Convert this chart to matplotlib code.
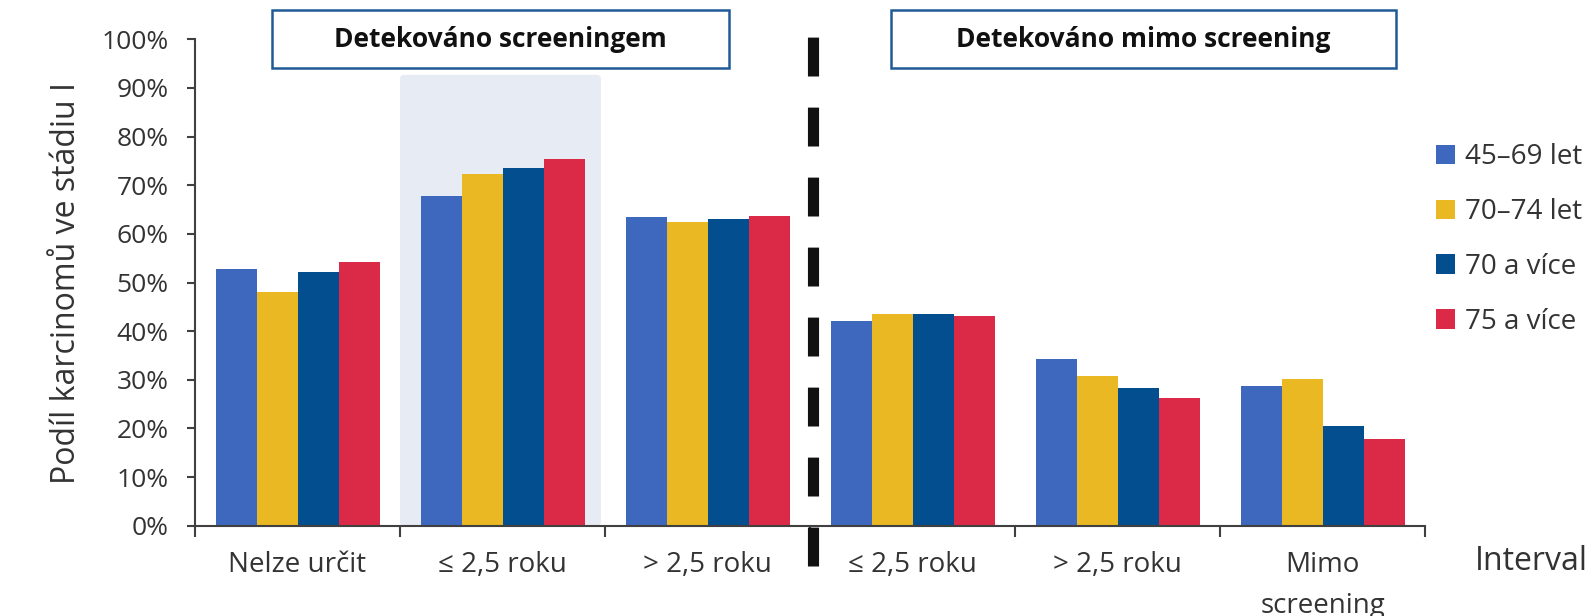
import numpy as np
import matplotlib
matplotlib.use('Agg')
import matplotlib.pyplot as plt
from matplotlib.patches import Rectangle, FancyBboxPatch
from matplotlib.ticker import FuncFormatter

plt.rcParams['font.family'] = ['Open Sans', 'DejaVu Sans']

categories = ['Nelze určit', '≤ 2,5 roku', '> 2,5 roku', '≤ 2,5 roku', '> 2,5 roku', 'Mimo\nscreening']
groups = ['45–69 let', '70–74 let', '70 a více', '75 a více']
s45_69 = [52.8, 67.7, 63.5, 42.1, 34.2, 28.7]
s70_74 = [48.0, 72.4, 62.5, 43.6, 30.7, 30.1]
s70plus = [52.1, 73.5, 63.0, 43.5, 28.4, 20.5]
s75plus = [54.2, 75.3, 63.7, 43.1, 26.3, 17.8]
colors = ['#3E68BE', '#EAB822', '#024E8F', '#DA2A47']
section_titles = ['Detekováno screeningem', 'Detekováno mimo screening']

series = [s45_69, s70_74, s70plus, s75plus]
x = np.arange(len(categories))
w = 0.2

fig = plt.figure(figsize=(15.9, 6.16), dpi=100)
ax = fig.add_axes([195/1590, 1-525.7/616, 1230/1590, (525.7-39.3)/616])

# light background for the screening <= 2,5 roku group
ax.add_patch(FancyBboxPatch((0.5, 0), 0.98, 92.7, boxstyle='round,pad=0,rounding_size=0.02',
                            facecolor='#E7EBF4', edgecolor='none', zorder=0,
                            mutation_aspect=40))

for i, s in enumerate(series):
    ax.bar(x + (i - 1.5)*w, s, width=w, color=colors[i], label=groups[i], zorder=2)

ax.set_xlim(-0.5, 5.5)
ax.set_ylim(0, 100)
ax.set_yticks(np.arange(0, 101, 10))
ax.yaxis.set_major_formatter(FuncFormatter(lambda v, p: '%d%%' % v))
ax.tick_params(axis='y', length=6, width=1.5, color='#404040', pad=13, labelsize=19, labelcolor='#333333')

ax.set_xticks(np.arange(-0.5, 5.6, 1))
ax.set_xticklabels([])
ax.set_xticks(x, minor=True)
ax.set_xticklabels(categories, minor=True, fontsize=20, color='#333333', va='top', linespacing=1.65)
ax.tick_params(axis='x', which='major', length=8, width=1.5, color='#404040')
ax.tick_params(axis='x', which='minor', length=0, pad=18)

for sp in ['top', 'right']:
    ax.spines[sp].set_visible(False)
for sp in ['left', 'bottom']:
    ax.spines[sp].set_color('#404040')
    ax.spines[sp].set_linewidth(1.5)

ax.set_ylabel('Podíl karcinomů ve stádiu I', fontsize=23, color='#333333', labelpad=13)
fig.text(1588/1590, 1-561/616, 'Interval', fontsize=23, color='#333333', ha='right', va='center')

# dashed separator
ax.plot([2.515, 2.515], [-8.3, 102], color='#111111', lw=8, dashes=(3.5, 2.8),
        clip_on=False, zorder=3, solid_capstyle='butt', dash_capstyle='butt')

# section title boxes
box_x = [(-0.124, 2.105), (2.895, 5.359)]
for (x0, x1), t in zip(box_x, section_titles):
    ax.add_patch(Rectangle((x0, 94.0), x1 - x0, 12.0, facecolor='white', edgecolor='#1F5A96',
                           lw=1.8, clip_on=False, zorder=4))
    ax.text((x0 + x1)/2, 100.0, t, ha='center', va='center', fontsize=19, fontweight='bold',
            color='#111111', zorder=5, clip_on=False)

fig.legend(loc='upper left', bbox_to_anchor=(1436/1590, 1-143/616), frameon=False,
           fontsize=20, handlelength=0.7, handleheight=0.7, handletextpad=0.35,
           labelspacing=0.97, borderpad=0, borderaxespad=0, labelcolor='#333333')

fig.savefig('out.png', dpi=100)
